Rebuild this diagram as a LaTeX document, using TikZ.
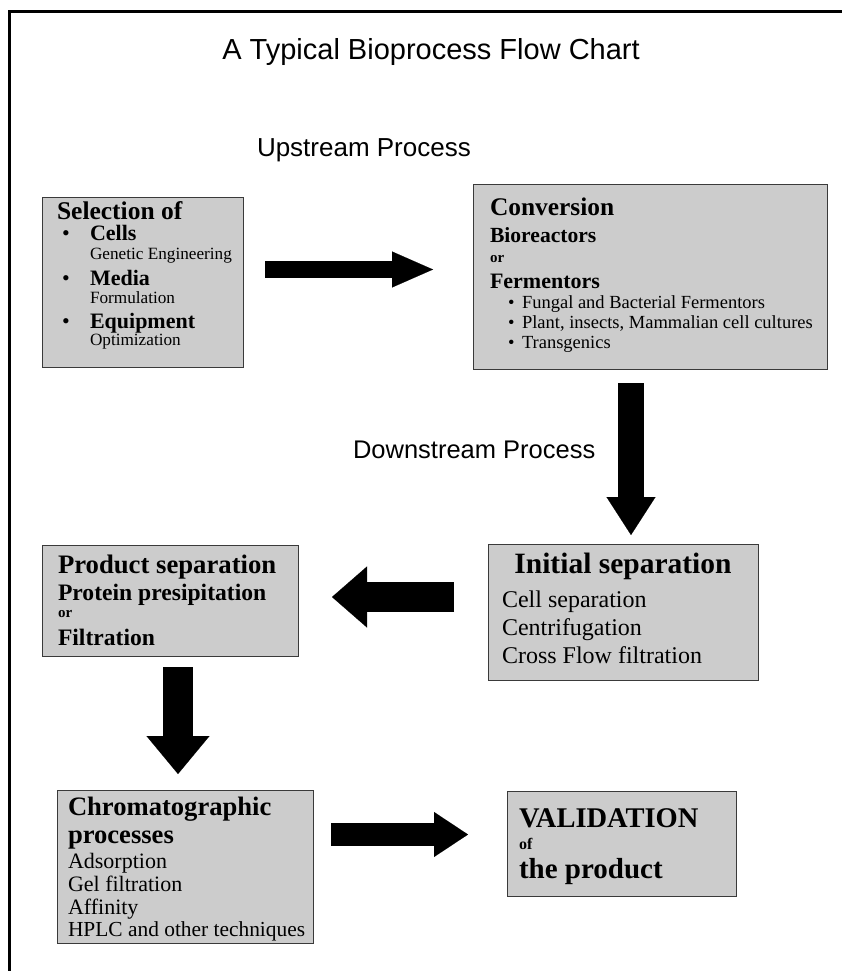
\documentclass[tikz,border=0pt]{standalone}
\usepackage{fontspec}
\setmainfont{Liberation Serif}
\newfontfamily\helv{Liberation Sans}
\usetikzlibrary{arrows.meta}
\definecolor{boxgray}{HTML}{CCCCCC}
\definecolor{edgegray}{HTML}{3A3A3A}
\newcommand\fsz[1]{\fontsize{#1}{#1}\selectfont}
\tikzset{
  box/.style={draw=edgegray, line width=1.2pt, fill=boxgray, rectangle, inner sep=0pt, anchor=north west},
  txt/.style={anchor=base west, inner sep=0pt, outer sep=0pt},
  ctxt/.style={anchor=base, inner sep=0pt, outer sep=0pt},
  fatarrow/.style n args={3}{draw=black, line width=#1, -{Triangle[length=#2, width=#3, line width=0.1pt]}},
  frame/.style={line width=3pt}
}
\begin{document}
\begin{tikzpicture}[x=1pt,y=-1pt]
\useasboundingbox (0,0) rectangle (842,971);
\fill[white] (0,0) rectangle (842,971);
% frame
\draw[frame] (9,972) -- (9,11.5) -- (843,11.5);
% title and labels
\node[ctxt] (title) at (431,60) {\helv\fsz{29}A Typical Bioprocess Flow Chart};
\node[txt] (up) at (257,157) {\helv\fsz{26}Upstream Process};
\node[txt] (down) at (353,458) {\helv\fsz{25.5}Downstream Process};

% box 1
\node[box, minimum width=201pt, minimum height=170pt] (sel) at (42,197) {};
\node[txt] (sel1) at (57,219) {\fsz{25.5}\bfseries Selection of};
\node[txt] (selb1) at (62,240) {\fsz{22}\textbullet};
\node[txt] (sel2) at (90,240) {\fsz{22}\bfseries Cells};
\node[txt] (sel3) at (90,259) {\fsz{17.2}Genetic Engineering};
\node[txt] (selb2) at (62,285) {\fsz{22}\textbullet};
\node[txt] (sel4) at (90,285) {\fsz{22}\bfseries Media};
\node[txt] (sel5) at (90,303) {\fsz{17.2}Formulation};
\node[txt] (selb3) at (62,328) {\fsz{22}\textbullet};
\node[txt] (sel6) at (90,328) {\fsz{22}\bfseries Equipment};
\node[txt] (sel7) at (90,345) {\fsz{17.2}Optimization};

% box 2
\node[box, minimum width=354pt, minimum height=185pt] (conv) at (473,184) {};
\node[txt] (conv1) at (490,215) {\fsz{25.4}\bfseries Conversion};
\node[txt] (conv2) at (490,242) {\fsz{21.6}\bfseries Bioreactors};
\node[txt] (conv3) at (490,262) {\fsz{15}\bfseries or};
\node[txt] (conv4) at (490,288) {\fsz{22}\bfseries Fermentors};
\node[txt] (convb1) at (508,308) {\fsz{18.5}\textbullet};
\node[txt] (conv5) at (522,308) {\fsz{18.5}Fungal and Bacterial Fermentors};
\node[txt] (convb2) at (508,328) {\fsz{18.5}\textbullet};
\node[txt] (conv6) at (522,328) {\fsz{18.5}Plant, insects, Mammalian cell cultures};
\node[txt] (convb3) at (508,348) {\fsz{18.5}\textbullet};
\node[txt] (conv7) at (522,348) {\fsz{18.5}Transgenics};

% initial separation
\node[box, minimum width=270pt, minimum height=136pt] (init) at (488,544) {};
\node[ctxt] (init1) at (623,573) {\fsz{29.5}\bfseries Initial separation};
\node[txt] (init2) at (502,607) {\fsz{24}Cell separation};
\node[txt] (init3) at (502,635) {\fsz{24}Centrifugation};
\node[txt] (init4) at (502,663) {\fsz{24}Cross Flow filtration};

% product separation
\node[box, minimum width=256pt, minimum height=111pt] (prod) at (42,545) {};
\node[txt] (prod1) at (58,573) {\fsz{26.7}\bfseries Product separation};
\node[txt] (prod2) at (58,600) {\fsz{23.6}\bfseries Protein presipitation};
\node[txt] (prod3) at (58,617) {\fsz{15}\bfseries or};
\node[txt] (prod4) at (58,645) {\fsz{23.6}\bfseries Filtration};

% chromatographic
\node[box, minimum width=256pt, minimum height=153pt] (chrom) at (57,790) {};
\node[txt] (chrom1) at (68,815) {\fsz{26.6}\bfseries Chromatographic};
\node[txt] (chrom2) at (68,843) {\fsz{26.6}\bfseries processes};
\node[txt] (chrom3) at (68,868) {\fsz{22}Adsorption};
\node[txt] (chrom4) at (68,891) {\fsz{22}Gel filtration};
\node[txt] (chrom5) at (68,914) {\fsz{22}Affinity};
\node[txt] (chrom6) at (68,936) {\fsz{21.4}HPLC and other techniques};

% validation
\node[box, minimum width=229pt, minimum height=105pt] (valid) at (507,791) {};
\node[txt] (valid1) at (519,827) {\fsz{28.5}\bfseries VALIDATION};
\node[txt] (valid2) at (519,849) {\fsz{16}\bfseries of};
\node[txt] (valid3) at (519,878) {\fsz{29}\bfseries the product};

% block arrows
\coordinate (a1s) at (265,269.5); \coordinate (a1e) at (433,269.5);
\draw[fatarrow={17pt}{41pt}{36pt}] (a1s) -- (a1e);
\coordinate (a2s) at (631,383); \coordinate (a2e) at (631,535);
\draw[fatarrow={26pt}{38pt}{49pt}] (a2s) -- (a2e);
\coordinate (a3s) at (454,597); \coordinate (a3e) at (332,597);
\draw[fatarrow={30pt}{35pt}{61pt}] (a3s) -- (a3e);
\coordinate (a4s) at (178,667); \coordinate (a4e) at (178,774);
\draw[fatarrow={30pt}{38pt}{63pt}] (a4s) -- (a4e);
\coordinate (a5s) at (331,834.5); \coordinate (a5e) at (468,834.5);
\draw[fatarrow={23pt}{34pt}{45pt}] (a5s) -- (a5e);
\end{tikzpicture}
\end{document}
